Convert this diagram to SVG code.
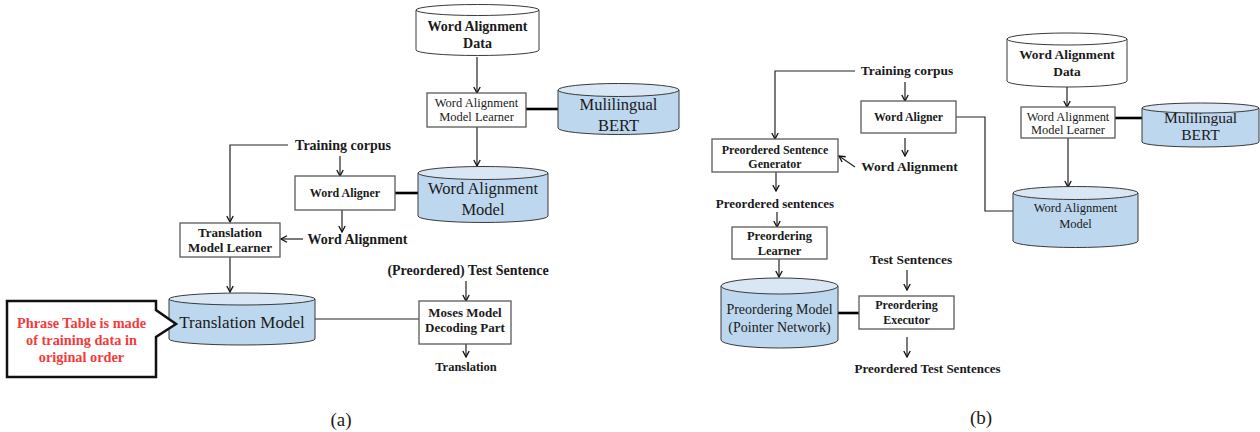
<svg xmlns="http://www.w3.org/2000/svg" width="1260" height="432" viewBox="0 0 1260 432">
  <defs>
    <!-- open V arrowhead, drawn along +x so orient="auto" follows each line -->
    <marker id="arr" markerWidth="10" markerHeight="10" refX="9" refY="5" orient="auto" markerUnits="userSpaceOnUse" viewBox="0 0 10 10">
      <polyline points="3,1.8 9,5 3,8.2" fill="none" stroke="#111" stroke-width="1.3"/>
    </marker>
  </defs>
  <style>
    text { font-family: "Liberation Serif", "Times New Roman", serif; fill: #1a1a1a; text-anchor: middle; }
    .b { font-weight: bold; }
    .box { fill: #fff; stroke: #5a5a5a; stroke-width: 1.3; }
    .cylb { fill: #bdd7ee; stroke: #3a3a3a; stroke-width: 1; }
    .cylt { fill: #d9e7f4; stroke: #3a3a3a; stroke-width: 1; }
    .cylw { fill: #fff; stroke: #3a3a3a; stroke-width: 1; }
    .ln { fill: none; stroke: #222; stroke-width: 1.2; }
    .arw { fill: none; stroke: #222; stroke-width: 1.2; marker-end: url(#arr); }
    .thick { fill: none; stroke: #000; stroke-width: 2.6; }
    .red { fill: #f43a3a; font-weight: bold; }
  </style>
  <rect width="1260" height="432" fill="#fff"/>

  <!-- connectors -->
  <g id="connectors">
    <!-- panel (a) -->
    <line class="arw" x1="477" y1="57" x2="477" y2="93"/>
    <line class="arw" x1="477" y1="127" x2="477" y2="166"/>
    <line class="thick" x1="526" y1="109" x2="558" y2="109"/>
    <line class="thick" x1="395" y1="193" x2="418" y2="193"/>
    <polyline class="arw" points="288,145 230,145 230,222"/>
    <line class="arw" x1="340" y1="156" x2="340" y2="176"/>
    <line class="arw" x1="342" y1="210" x2="342" y2="232"/>
    <line class="arw" x1="303" y1="239" x2="281" y2="239"/>
    <line class="arw" x1="230" y1="257" x2="230" y2="292"/>
    <line class="ln" x1="315" y1="319" x2="419" y2="319"/>
    <line class="arw" x1="466" y1="281" x2="466" y2="301"/>
    <line class="arw" x1="466" y1="344" x2="466" y2="357"/>

    <!-- panel (b) -->
    <polyline class="arw" points="855,71 775,71 775,139"/>
    <line class="arw" x1="905" y1="82" x2="905" y2="101"/>
    <polyline class="ln" points="956,117 985,117 985,211 1013,211"/>
    <line class="arw" x1="905" y1="138" x2="905" y2="156"/>
    <line class="arw" x1="855" y1="167" x2="839" y2="156"/>
    <line class="arw" x1="776" y1="172" x2="776" y2="191"/>
    <line class="arw" x1="777" y1="212" x2="777" y2="227"/>
    <line class="arw" x1="779" y1="259" x2="779" y2="277"/>
    <line class="thick" x1="838" y1="313" x2="859" y2="313"/>
    <line class="arw" x1="907" y1="270" x2="907" y2="290"/>
    <line class="arw" x1="907" y1="337" x2="907" y2="357"/>
    <line class="arw" x1="1067" y1="87" x2="1067" y2="107"/>
    <line class="thick" x1="1115" y1="118" x2="1142" y2="118"/>
    <line class="arw" x1="1068" y1="138" x2="1068" y2="187"/>
  </g>

  <!-- ===== panel (a) ===== -->
  <g id="a-word-alignment-data">
    <path class="cylw" d="M416 10 V50 A61.5 5.5 0 0 0 539 50 V10"/>
    <ellipse class="cylw" cx="477.5" cy="10" rx="61.5" ry="5.5"/>
    <text class="b" x="477.5" y="31" font-size="14">Word Alignment</text>
    <text class="b" x="477.5" y="48" font-size="14">Data</text>
  </g>

  <g id="a-wa-model-learner">
    <rect class="box" x="427" y="93" width="99" height="34"/>
    <text x="476.5" y="107" font-size="12.5">Word Alignment</text>
    <text x="476.5" y="121" font-size="12.5">Model Learner</text>
  </g>

  <g id="a-bert">
    <path class="cylb" d="M558 90 V128 A60.5 6.5 0 0 0 679 128 V90"/>
    <ellipse class="cylt" cx="618.5" cy="90" rx="60.5" ry="6.5"/>
    <text x="618.5" y="110" font-size="16.5">Mulilingual</text>
    <text x="618.5" y="131" font-size="16.5">BERT</text>
  </g>

  <g id="a-wa-model">
    <path class="cylb" d="M418 173 V216 A65 6.5 0 0 0 548 216 V173"/>
    <ellipse class="cylt" cx="483" cy="173" rx="65" ry="6.5"/>
    <text x="483" y="194" font-size="16.5">Word Alignment</text>
    <text x="483" y="215" font-size="16.5">Model</text>
  </g>

  <g id="a-training-corpus">
    <text class="b" x="343" y="150" font-size="14">Training corpus</text>
  </g>

  <g id="a-word-aligner">
    <rect class="box" x="295" y="176" width="100" height="34"/>
    <text class="b" x="345" y="197" font-size="12">Word Aligner</text>
  </g>

  <g id="a-word-alignment">
    <text class="b" x="357.5" y="244" font-size="14">Word Alignment</text>
  </g>

  <g id="a-tm-learner">
    <rect class="box" x="180" y="223" width="100" height="34"/>
    <text class="b" x="230" y="237" font-size="13">Translation</text>
    <text class="b" x="230" y="252" font-size="13">Model Learner</text>
  </g>

  <g id="a-translation-model">
    <path class="cylb" d="M169 299 V339 A73 6 0 0 0 315 339 V299"/>
    <ellipse class="cylt" cx="242" cy="299" rx="73" ry="6"/>
    <text x="242" y="328" font-size="17">Translation Model</text>
  </g>

  <g id="a-callout">
    <path d="M7 301 H156 V310 L176 324 L156 337 V377 H7 Z" fill="#fff" stroke="#111" stroke-width="2.5"/>
    <text class="red" x="81.5" y="328" font-size="14.3">Phrase Table is made</text>
    <text class="red" x="81.5" y="345" font-size="14.3">of training data in</text>
    <text class="red" x="81.5" y="362" font-size="14.3">original order</text>
  </g>

  <g id="a-test-sentence">
    <text class="b" x="468" y="275" font-size="14">(Preordered) Test Sentence</text>
  </g>

  <g id="a-moses">
    <rect class="box" x="419" y="301" width="92" height="43"/>
    <text class="b" x="465" y="317" font-size="13">Moses Model</text>
    <text class="b" x="465" y="332" font-size="13">Decoding Part</text>
  </g>

  <g id="a-translation">
    <text class="b" x="466" y="371" font-size="12.5">Translation</text>
  </g>

  <text x="341" y="426" font-size="19">(a)</text>

  <!-- ===== panel (b) ===== -->
  <g id="b-training-corpus">
    <text class="b" x="907" y="75" font-size="13.5">Training corpus</text>
  </g>

  <g id="b-word-aligner">
    <rect class="box" x="861" y="101" width="95" height="32"/>
    <text class="b" x="908.5" y="121" font-size="11.8">Word Aligner</text>
  </g>

  <g id="b-word-alignment">
    <text class="b" x="909.5" y="171" font-size="13.5">Word Alignment</text>
  </g>

  <g id="b-ps-generator">
    <rect class="box" x="712" y="139" width="126" height="33"/>
    <text class="b" x="775" y="154" font-size="12">Preordered Sentence</text>
    <text class="b" x="775" y="168" font-size="12">Generator</text>
  </g>

  <g id="b-preordered-sentences">
    <text class="b" x="775" y="208" font-size="13">Preordered sentences</text>
  </g>

  <g id="b-preordering-learner">
    <rect class="box" x="732" y="227" width="95" height="32"/>
    <text class="b" x="779.5" y="240" font-size="12.5">Preordering</text>
    <text class="b" x="779.5" y="255" font-size="12.5">Learner</text>
  </g>

  <g id="b-preordering-model">
    <path class="cylb" d="M721 286 V340 A58.5 8 0 0 0 838 340 V286"/>
    <ellipse class="cylt" cx="779.5" cy="286" rx="58.5" ry="8"/>
    <text x="779.5" y="314" font-size="14">Preordering Model</text>
    <text x="779.5" y="332" font-size="14">(Pointer Network)</text>
  </g>

  <g id="b-test-sentences">
    <text class="b" x="911" y="264" font-size="13.4">Test Sentences</text>
  </g>

  <g id="b-preordering-executor">
    <rect class="box" x="859" y="296" width="95" height="33"/>
    <text class="b" x="906.5" y="309" font-size="12">Preordering</text>
    <text class="b" x="906.5" y="324" font-size="12">Executor</text>
  </g>

  <g id="b-preordered-test-sentences">
    <text class="b" x="927.5" y="373" font-size="13">Preordered Test Sentences</text>
  </g>

  <g id="b-word-alignment-data">
    <path class="cylw" d="M1007 39 V81 A60 6 0 0 0 1127 81 V39"/>
    <ellipse class="cylw" cx="1067" cy="39" rx="60" ry="6"/>
    <text class="b" x="1067" y="59" font-size="13.4">Word Alignment</text>
    <text class="b" x="1067" y="76" font-size="13.4">Data</text>
  </g>

  <g id="b-wa-model-learner">
    <rect class="box" x="1021" y="107" width="94" height="31"/>
    <text x="1068" y="121" font-size="12.4">Word Alignment</text>
    <text x="1068" y="134" font-size="12.4">Model Learner</text>
  </g>

  <g id="b-bert">
    <path class="cylb" d="M1142 108 V142 A58.5 5 0 0 0 1259 142 V108"/>
    <ellipse class="cylt" cx="1200.5" cy="108" rx="58.5" ry="5"/>
    <text x="1200.5" y="123" font-size="15.5">Mulilingual</text>
    <text x="1200.5" y="140" font-size="15.5">BERT</text>
  </g>

  <g id="b-wa-model">
    <path class="cylb" d="M1013 193 V241 A62.5 6.5 0 0 0 1138 241 V193"/>
    <ellipse class="cylt" cx="1075.5" cy="193" rx="62.5" ry="6.5"/>
    <text x="1075.5" y="212" font-size="12.5">Word Alignment</text>
    <text x="1075.5" y="228" font-size="12.5">Model</text>
  </g>

  <text x="981" y="424" font-size="19">(b)</text>
</svg>
